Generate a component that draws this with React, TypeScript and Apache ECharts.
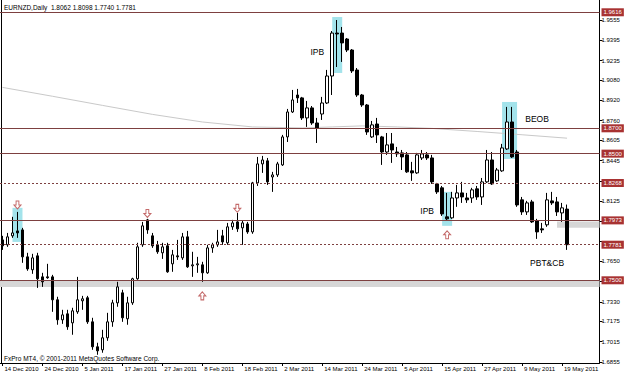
import React, { useEffect, useRef } from "react";
import * as echarts from "echarts";

// Trading days shown (day-of-month per month)
const decDays = [14, 15, 16, 17, 20, 21, 22, 23, 24, 27, 28, 29, 30, 31];
const janDays = [3, 4, 5, 6, 7, 10, 11, 12, 13, 14, 17, 18, 19, 20, 21, 24, 25, 26, 27, 28, 31];
const febDays = [1, 2, 3, 4, 7, 8, 9, 10, 11, 14, 15, 16, 17, 18, 21, 22, 23, 24, 25, 28];
const marDays = [1, 2, 3, 4, 7, 8, 9, 10, 11, 14, 15, 16, 17, 18, 21, 22, 23, 24, 25, 28, 29, 30, 31];
const aprDays = [1, 4, 5, 6, 7, 8, 11, 12, 13, 14, 15, 18, 19, 20, 21, 22, 25, 26, 27, 28, 29];
const mayDays = [2, 3, 4, 5, 6, 9, 10, 11, 12, 13, 16, 17, 18, 19, 20];
const emptySlots = ["", "", "", "", "", ""];

const opens = [
  1.7819, 1.778, 1.7851, 1.789, 1.7898, 1.7685, 1.7583, 1.7693, 1.7527, 1.7527,
  1.7527, 1.7346, 1.7188, 1.7235, 1.7164, 1.7251, 1.7338, 1.7362, 1.7172, 1.6975,
  1.6951, 1.7046, 1.7172, 1.7322, 1.7401, 1.7196, 1.7322, 1.7512, 1.778, 1.7977,
  1.7851, 1.778, 1.7717, 1.7772, 1.763, 1.7693, 1.7677, 1.7843, 1.7614, 1.7622,
  1.7622, 1.7559, 1.7756, 1.778, 1.7851, 1.7796, 1.7922, 1.7961, 1.7914, 1.7945,
  1.7882, 1.8269, 1.8419, 1.8443, 1.8316, 1.8332, 1.8411, 1.8632, 1.8829, 1.8963,
  1.894, 1.8782, 1.8861, 1.8742, 1.8813, 1.89, 1.9113, 1.9452, 1.9452, 1.9405,
  1.9318, 1.916, 1.8963, 1.8884, 1.8632, 1.8734, 1.8632, 1.8513, 1.8577, 1.8513,
  1.8506, 1.849, 1.8364, 1.8348, 1.8466, 1.849, 1.8466, 1.8261, 1.823, 1.8001,
  1.7993, 1.815, 1.819, 1.815, 1.815, 1.8222, 1.8158, 1.8277, 1.845, 1.8285,
  1.8364, 1.8537, 1.875, 1.8513, 1.8135, 1.804, 1.8119, 1.7969, 1.7906, 1.7938,
  1.8127, 1.8119, 1.8032, 1.8062,
];
const highs = [
  1.7851, 1.7874, 1.8001, 1.804, 1.7914, 1.7717, 1.7709, 1.7717, 1.7559, 1.763,
  1.7543, 1.737, 1.7267, 1.7267, 1.7283, 1.7527, 1.7377, 1.7377, 1.7204, 1.7007,
  1.7109, 1.7243, 1.7346, 1.7488, 1.7425, 1.737, 1.752, 1.7796, 1.7961, 1.7985,
  1.7874, 1.7811, 1.7796, 1.7796, 1.774, 1.7819, 1.7874, 1.789, 1.7725, 1.7685,
  1.7646, 1.778, 1.7796, 1.7898, 1.7898, 1.7953, 1.7977, 1.8032, 1.7969, 1.7961,
  1.8277, 1.8474, 1.8482, 1.8466, 1.8356, 1.8435, 1.8648, 1.8853, 1.9003, 1.9011,
  1.8948, 1.8916, 1.8876, 1.8782, 1.8948, 1.9161, 1.9468, 1.9555, 1.95, 1.9413,
  1.9326, 1.9176, 1.8971, 1.8892, 1.8758, 1.8782, 1.864, 1.8663, 1.8663, 1.8553,
  1.8529, 1.8513, 1.8435, 1.8506, 1.8529, 1.8513, 1.849, 1.8269, 1.8245, 1.819,
  1.8198, 1.8253, 1.8277, 1.819, 1.823, 1.8245, 1.8308, 1.8529, 1.8513, 1.8387,
  1.8577, 1.8869, 1.8869, 1.8529, 1.8158, 1.8127, 1.8135, 1.7985, 1.7953, 1.819,
  1.8198, 1.8158, 1.8111, 1.8098,
];
const lows = [
  1.774, 1.7764, 1.7835, 1.7835, 1.7638, 1.7575, 1.7551, 1.744, 1.7448, 1.7512,
  1.7251, 1.7149, 1.7156, 1.7109, 1.707, 1.7235, 1.7267, 1.7156, 1.6951, 1.6912,
  1.6928, 1.7022, 1.7133, 1.7291, 1.7172, 1.7149, 1.7306, 1.7504, 1.7764, 1.7867,
  1.7756, 1.7709, 1.7669, 1.7559, 1.7567, 1.7661, 1.7661, 1.7598, 1.7527, 1.7559,
  1.7488, 1.7551, 1.7717, 1.7764, 1.778, 1.778, 1.7898, 1.7882, 1.778, 1.7867,
  1.7867, 1.8245, 1.8348, 1.8253, 1.8198, 1.8316, 1.8403, 1.8592, 1.8821, 1.89,
  1.8766, 1.8711, 1.8727, 1.8584, 1.8766, 1.8892, 1.8963, 1.9184, 1.9224, 1.9302,
  1.9137, 1.8948, 1.8869, 1.8648, 1.8624, 1.8584, 1.8411, 1.849, 1.8427, 1.8474,
  1.8371, 1.8348, 1.8285, 1.834, 1.845, 1.845, 1.8261, 1.8182, 1.8008, 1.7969,
  1.7985, 1.808, 1.8111, 1.8111, 1.8111, 1.8135, 1.8095, 1.8269, 1.8253, 1.8277,
  1.8356, 1.8529, 1.8466, 1.808, 1.8016, 1.8016, 1.7953, 1.7827, 1.7874, 1.7922,
  1.8095, 1.8008, 1.7961, 1.774,
];
const closes = [
  1.7772, 1.7843, 1.7874, 1.7874, 1.7685, 1.759, 1.7677, 1.7512, 1.7488, 1.752,
  1.7346, 1.7188, 1.7227, 1.7133, 1.7259, 1.7346, 1.7354, 1.7172, 1.6975, 1.6943,
  1.7046, 1.7172, 1.7322, 1.7448, 1.7204, 1.7322, 1.7512, 1.7764, 1.793, 1.7898,
  1.7772, 1.7725, 1.7764, 1.7567, 1.7701, 1.7685, 1.7843, 1.7606, 1.7622, 1.763,
  1.7559, 1.7756, 1.778, 1.7803, 1.7803, 1.7922, 1.7953, 1.7906, 1.7953, 1.7882,
  1.8269, 1.8419, 1.845, 1.8277, 1.8332, 1.8419, 1.8632, 1.8829, 1.8924, 1.894,
  1.8782, 1.8861, 1.8742, 1.8703, 1.89, 1.9113, 1.9452, 1.9445, 1.9374, 1.9318,
  1.9153, 1.8963, 1.8884, 1.8671, 1.8727, 1.8648, 1.8513, 1.8569, 1.8529, 1.8498,
  1.8474, 1.8356, 1.8348, 1.849, 1.8498, 1.8466, 1.8277, 1.8198, 1.8024, 1.7985,
  1.815, 1.819, 1.8158, 1.8135, 1.8214, 1.8158, 1.8277, 1.845, 1.8261, 1.8371,
  1.8545, 1.875, 1.8474, 1.8095, 1.804, 1.8111, 1.7961, 1.7882, 1.7898, 1.8135,
  1.8111, 1.804, 1.8072, 1.7781,
];

// Moving average readings: [bar index, price]
const maPoints: [number, number][] = [
  [0, 1.9023], [10, 1.8953], [20, 1.8881], [30, 1.881], [40, 1.875], [50, 1.8711],
  [60, 1.8703], [66, 1.8711], [72, 1.8719], [79, 1.8711], [86, 1.8699], [95, 1.8675],
  [104, 1.8649], [113, 1.8622],
];

// Horizontal price lines
const lineLevels = [1.9616, 1.87, 1.85, 1.8268, 1.7973, 1.7781, 1.75];
const lineDashed = [false, false, false, true, false, true, false];

// Y-axis ticks (as printed by the platform) and the labels left visible
const yTicks = [
  1.6855, 1.7015, 1.7175, 1.733, 1.749, 1.765, 1.781, 1.797, 1.8125, 1.8285,
  1.8445, 1.8605, 1.876, 1.892, 1.908, 1.9235, 1.9395, 1.9555,
];
const yLabelValues = [
  1.6855, 1.7015, 1.7175, 1.733, 1.765, 1.8125, 1.8445, 1.8605, 1.876, 1.892,
  1.908, 1.9235, 1.9395, 1.9555,
];

// Highlight boxes: [fromBar, toBar, topPrice, bottomPrice]
const cyanBoxes: [number, number, number, number][] = [
  [2, 4, 1.8072, 1.7803],
  [66, 68, 1.9579, 1.9137],
  [88, 90, 1.8198, 1.793],
  [100, 103, 1.8908, 1.8458],
];

// Arrows: [bar index, price]
const downArrows: [number, number][] = [[3, 1.8095], [29, 1.8028], [47, 1.8068]];
const upArrows: [number, number][] = [[40, 1.7377], [89, 1.7859]];

// Text notes: [bar index, price, text]
const notes: [number, number, string][] = [
  [63, 1.9302, "IPB"],
  [85, 1.8044, "IPB"],
  [107, 1.877, "BEOB"],
  [109, 1.7638, "PBT&CB"],
];

const FONT = "'Liberation Sans', Arial, sans-serif";

export default function App() {
  const ref = useRef<HTMLDivElement>(null);
  useEffect(() => {
    const el = ref.current;
    if (!el) return;
    const chart = echarts.init(el, null, { renderer: "svg" });

    const dates = [
      ...decDays.map((d) => `${d} Dec 2010`),
      ...janDays.map((d) => `${d} Jan 2011`),
      ...febDays.map((d) => `${d} Feb 2011`),
      ...marDays.map((d) => `${d} Mar 2011`),
      ...aprDays.map((d) => `${d} Apr 2011`),
      ...mayDays.map((d) => `${d} May 2011`),
    ];
    const categories = [...dates, ...emptySlots];
    const ohlc = opens.map((o, i) => [o, closes[i], lows[i], highs[i]]);
    const maData: (number | null)[] = dates.map(() => null);
    maPoints.forEach(([i, v]) => (maData[i] = v));

    const lineColor = "#7d4040";
    const markLineData = lineLevels.map((v, i) => ({
      yAxis: v,
      lineStyle: { color: lineColor, width: 1, type: lineDashed[i] ? [2, 2] : "solid" },
    }));

    const markAreaData: any[] = cyanBoxes.map(([a, b, t, btm]) => [
      { xAxis: dates[a], yAxis: t, itemStyle: { color: "#a3e3eb" } },
      { xAxis: dates[b], yAxis: btm },
    ]);
    markAreaData.push([
      { yAxis: 1.75, itemStyle: { color: "#d6d6d6" } },
      { yAxis: 1.7448 },
    ]);
    markAreaData.push([
      { xAxis: dates[111], yAxis: 1.7965, itemStyle: { color: "#d6d6d6" } },
      { yAxis: 1.7914 },
    ]);

    chart.setOption({
      animation: false,
      backgroundColor: "#ffffff",
      textStyle: { fontFamily: FONT },
      title: {
        text: "EURNZD,Daily  1.8062 1.8098 1.7740 1.7781",
        left: 4,
        top: 4,
        padding: 0,
        textStyle: { fontSize: 6.5, fontWeight: "normal", color: "#000", fontFamily: FONT },
      },
      grid: { left: -0.5, right: 25.5, top: 0, bottom: 12 },
      xAxis: {
        type: "category",
        data: categories,
        boundaryGap: true,
        axisLine: { show: true, lineStyle: { color: "#000", width: 1 } },
        axisTick: { show: true, interval: 7, alignWithLabel: true, length: 3, lineStyle: { color: "#000" } },
        axisLabel: {
          interval: 7,
          align: "left",
          fontSize: 6,
          color: "#000",
          margin: 3,
          padding: [0, 0, 0, 2],
          fontFamily: FONT,
        },
        splitLine: { show: false },
      },
      yAxis: {
        type: "value",
        position: "right",
        min: 1.6847,
        max: 1.9713,
        axisLine: { show: true, lineStyle: { color: "#000", width: 1 } },
        axisTick: { show: true, length: 3, customValues: yTicks, lineStyle: { color: "#000" } },
        axisLabel: {
          customValues: yLabelValues,
          fontSize: 6,
          color: "#000",
          margin: 2,
          fontFamily: FONT,
          formatter: (v: number) => v.toFixed(4),
        },
        splitLine: { show: false },
      },
      series: [
        {
          type: "line",
          name: "MA",
          data: maData,
          connectNulls: true,
          showSymbol: false,
          symbol: "none",
          lineStyle: { color: "#c9c9c9", width: 1 },
          z: 1,
          silent: true,
        },
        {
          type: "candlestick",
          name: "EURNZD",
          data: ohlc,
          barWidth: 3,
          z: 3,
          itemStyle: {
            color: "#ffffff",
            color0: "#000000",
            borderColor: "#000000",
            borderColor0: "#000000",
            borderWidth: 1,
          },
          markArea: { silent: true, data: markAreaData, z: 1 },
          markLine: {
            silent: true,
            precision: 4,
            symbol: ["none", "none"],
            data: markLineData,
            label: {
              show: true,
              position: "end",
              distance: 2,
              formatter: (p: any) => Number(p.value).toFixed(4),
              backgroundColor: "#a83232",
              color: "#ffffff",
              fontSize: 6,
              padding: [1, 2, 1, 2],
              fontFamily: FONT,
            },
          },
        },
        {
          type: "scatter",
          name: "down",
          data: downArrows.map(([i, v]) => [dates[i], v]),
          symbol: "path://M3,0L7,0L7,5L10,5L5,10L0,5L3,5Z",
          symbolSize: [7, 8],
          itemStyle: { color: "#ffffff", borderColor: "#c46a6a", borderWidth: 1, opacity: 1 },
          z: 4,
          silent: true,
        },
        {
          type: "scatter",
          name: "up",
          data: upArrows.map(([i, v]) => [dates[i], v]),
          symbol: "path://M5,0L10,5L7,5L7,10L3,10L3,5L0,5Z",
          symbolSize: [7, 8],
          itemStyle: { color: "#ffffff", borderColor: "#c46a6a", borderWidth: 1, opacity: 1 },
          z: 4,
          silent: true,
        },
        {
          type: "scatter",
          name: "notes",
          data: notes.map(([i, v, t]) => ({ value: [dates[i], v], name: t })),
          symbolSize: 1,
          z: 5,
          silent: true,
          itemStyle: { color: "transparent", opacity: 1 },
          label: {
            show: true,
            position: "inside",
            formatter: (p: any) => p.name,
            fontSize: 8.5,
            fontWeight: "normal",
            color: "#000000",
            textBorderWidth: 0,
            textBorderColor: "transparent",
            fontFamily: FONT,
          },
        },
      ],
      graphic: [
        {
          type: "line",
          shape: { x1: 1.5, y1: 0, x2: 1.5, y2: 363 },
          style: { stroke: "#000", lineWidth: 1 },
          silent: true,
        },
        {
          type: "text",
          left: 4,
          top: 355,
          style: {
            text: "FxPro MT4, © 2001-2011 MetaQuotes Software Corp.",
            fontSize: 6.5,
            fill: "#000",
            fontFamily: FONT,
          },
          silent: true,
        },
      ],
    });
    return () => chart.dispose();
  }, []);
  return (
    <div
      ref={ref}
      style={{ position: "fixed", left: 0, top: 0, width: 625, height: 375, background: "#fff" }}
    />
  );
}
